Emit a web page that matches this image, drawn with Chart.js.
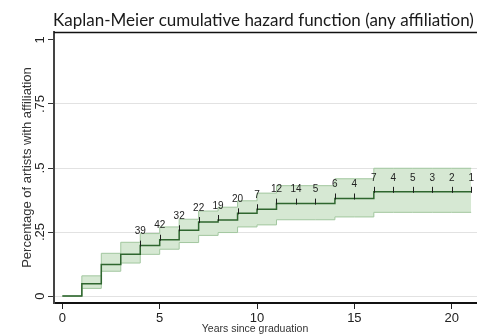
<!DOCTYPE html>
<html>
<head>
<meta charset="utf-8">
<script src="https://cdn.jsdelivr.net/npm/chart.js@4/dist/chart.umd.min.js"></script>
<style>
  html, body { margin: 0; padding: 0; background: #fff; }
  #wrap { width: 477px; height: 335px; position: relative; }
</style>
</head>
<body>
<div id="wrap"><canvas id="km"></canvas></div>
<script>
// Years since graduation at which the curve is evaluated
const years = [0, 1, 2, 3, 4, 5, 6, 7, 8, 9, 10, 11, 12, 13, 14, 15, 16, 17, 18, 19, 20, 21];
// Kaplan-Meier cumulative failure estimate and its confidence band
const estimate = [0, 0.048, 0.123, 0.163, 0.197, 0.220, 0.257, 0.289, 0.297, 0.323, 0.339, 0.361, 0.361, 0.361, 0.381, 0.381, 0.407, 0.407, 0.407, 0.407, 0.407, 0.407];
const lowerCI  = [0, 0.030, 0.097, 0.129, 0.163, 0.183, 0.209, 0.237, 0.248, 0.270, 0.278, 0.298, 0.298, 0.298, 0.309, 0.309, 0.327, 0.327, 0.327, 0.327, 0.327, 0.327];
const upperCI  = [0, 0.079, 0.167, 0.210, 0.244, 0.270, 0.300, 0.332, 0.347, 0.372, 0.402, 0.431, 0.431, 0.431, 0.458, 0.458, 0.499, 0.499, 0.499, 0.499, 0.499, 0.499];
// Censoring times and number censored at each
const censorYears  = [4, 5, 6, 7, 8, 9, 10, 11, 12, 13, 14, 15, 16, 17, 18, 19, 20, 21];
const censorCounts = [39, 42, 32, 22, 19, 20, 7, 12, 14, 5, 6, 4, 7, 4, 5, 3, 2, 1];
// Axis ticks
const xTicks = [0, 5, 10, 15, 20];
const xTickLabels = ['0', '5', '10', '15', '20'];
const yTicks = [0, 0.25, 0.5, 0.75, 1];
const yTickLabels = ['0', '.25', '.5', '.75', '1'];

const chartTitle = 'Kaplan-Meier cumulative hazard function (any affiliation)';
const xTitle = 'Years since graduation';
const yTitle = 'Percentage of artists with affiliation';

const toPoints = (vals) => years.map((t, i) => ({ x: t, y: vals[i] }));
const censorPoints = censorYears.map(t => ({ x: t, y: estimate[years.indexOf(t)] }));

const bandLine = '#a2c79f';
const bandFill = '#d6e8d3';
const curveColor = '#2f662f';

const decorations = {
  id: 'decorations',
  afterDatasetsDraw(chart) {
    const { ctx, chartArea: a, scales } = chart;
    ctx.save();
    // top frame line
    ctx.strokeStyle = '#111';
    ctx.lineWidth = 1.5;
    ctx.beginPath();
    ctx.moveTo(a.left, a.top + 0.5);
    ctx.lineTo(a.right, a.top + 0.5);
    ctx.stroke();

    // censoring ticks and counts
    const meta = chart.getDatasetMeta(3);
    ctx.strokeStyle = '#1e1e1e';
    ctx.lineWidth = 1;
    ctx.fillStyle = '#222';
    ctx.font = '10px "Liberation Sans", Arial, sans-serif';
    ctx.textAlign = 'center';
    ctx.textBaseline = 'middle';
    meta.data.forEach((pt, i) => {
      const x = Math.round(pt.x) + 0.5;
      ctx.beginPath();
      ctx.moveTo(x, pt.y + 1);
      ctx.lineTo(x, pt.y - 5);
      ctx.stroke();
      ctx.fillText(String(censorCounts[i]), pt.x, pt.y - 14);
    });

    // y tick labels, rotated
    const ys = scales.y;
    ctx.fillStyle = '#222';
    ctx.font = '13px "Liberation Sans", Arial, sans-serif';
    yTicks.forEach((v, i) => {
      const py = ys.getPixelForValue(v);
      ctx.save();
      ctx.translate(40, py);
      ctx.rotate(-Math.PI / 2);
      ctx.fillText(yTickLabels[i], 0, 0);
      ctx.restore();
    });

    // axis titles
    ctx.fillStyle = '#333';
    ctx.font = '13px "Liberation Sans", Arial, sans-serif';
    ctx.save();
    ctx.translate(27, (a.top + a.bottom) / 2);
    ctx.rotate(-Math.PI / 2);
    ctx.fillText(yTitle, 0, 0);
    ctx.restore();
    ctx.font = '10.5px "Liberation Sans", Arial, sans-serif';
    ctx.fillText(xTitle, 255, 329);

    // chart title
    ctx.fillStyle = '#1a1a1a';
    ctx.font = '17px Lato, "Open Sans", sans-serif';
    ctx.textBaseline = 'alphabetic';
    ctx.fillText(chartTitle, 263.5, 26);
    ctx.restore();
  }
};

new Chart(document.getElementById('km'), {
  type: 'line',
  data: {
    datasets: [
      {
        label: 'upper',
        data: toPoints(upperCI),
        stepped: true,
        borderColor: bandLine,
        borderWidth: 1,
        backgroundColor: bandFill,
        fill: '+1',
        pointRadius: 0,
        order: 3
      },
      {
        label: 'lower',
        data: toPoints(lowerCI),
        stepped: true,
        borderColor: bandLine,
        borderWidth: 1,
        fill: false,
        pointRadius: 0,
        order: 2
      },
      {
        label: 'estimate',
        data: toPoints(estimate),
        stepped: true,
        borderColor: curveColor,
        borderWidth: 1.5,
        fill: false,
        pointRadius: 0,
        order: 1
      },
      {
        label: 'censored',
        data: censorPoints,
        showLine: false,
        pointRadius: 0,
        order: 0
      }
    ]
  },
  options: {
    responsive: true,
    maintainAspectRatio: false,
    animation: false,
    layout: { padding: { top: 32, right: 0, left: 0, bottom: 0 } },
    plugins: {
      legend: { display: false },
      tooltip: { enabled: false },
      title: { display: false }
    },
    scales: {
      x: {
        type: 'linear',
        min: -0.43,
        max: 21.3,
        afterBuildTicks: (s) => { s.ticks = xTicks.map(v => ({ value: v })); },
        afterFit: (s) => { s.height = 32; },
        ticks: {
          callback: (v) => xTickLabels[xTicks.indexOf(v)],
          color: '#222',
          font: { family: '"Liberation Sans", Arial, sans-serif', size: 13 },
          padding: 2,
          maxRotation: 0
        },
        grid: {
          drawOnChartArea: false,
          drawTicks: true,
          tickLength: 6,
          tickColor: '#222',
          tickWidth: 1
        },
        border: { display: true, color: '#111', width: 2 }
      },
      y: {
        type: 'linear',
        min: -0.027,
        max: 1.031,
        afterBuildTicks: (s) => { s.ticks = yTicks.map(v => ({ value: v })); },
        afterFit: (s) => { s.width = 54; },
        ticks: { display: false },
        grid: {
          color: (c) => (c.tick && c.tick.value === 1 ? 'rgba(0,0,0,0)' : '#e2e2e2'),
          lineWidth: 1,
          drawTicks: true,
          tickLength: 6,
          tickColor: '#333',
          tickWidth: 1
        },
        border: { display: true, color: '#444', width: 2 }
      }
    }
  },
  plugins: [decorations]
});
</script>
</body>
</html>
